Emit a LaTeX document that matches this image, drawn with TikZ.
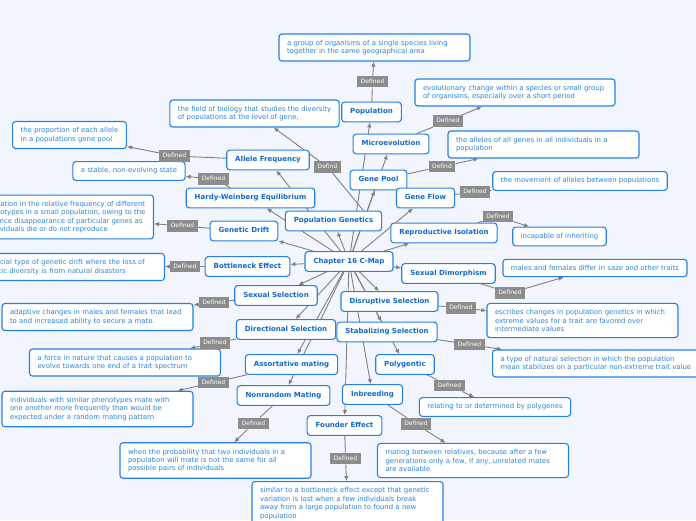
\documentclass[tikz,border=0pt]{standalone}
\usepackage{fontspec}
\setmainfont{DejaVu Sans}
\usetikzlibrary{arrows.meta,backgrounds}
\definecolor{cmapBack}{RGB}{242,245,253}
\definecolor{cmapBorder}{RGB}{38,128,226}
\definecolor{cmapTopic}{RGB}{16,104,210}
\definecolor{cmapText}{RGB}{44,132,222}
\definecolor{cmapLine}{RGB}{128,128,128}
\definecolor{cmapTag}{RGB}{140,140,140}
\tikzset{
  topic/.style={draw=cmapBorder, fill=white, line width=1.1pt, rounded corners=3pt,
    text=cmapTopic, font=\fontsize{7}{8.4}\selectfont\bfseries,
    inner xsep=8.5pt, inner ysep=6.5pt, text height=5.3pt, text depth=1.4pt},
  defn/.style={draw=cmapBorder, fill=white, line width=1.1pt, rounded corners=3pt,
    text=cmapText, font=\fontsize{6.9}{8.4}\selectfont, align=left,
    inner xsep=8pt, inner ysep=6pt},
  wide/.style={text width=175pt},
  tag/.style={fill=cmapTag, text=white, font=\fontsize{6}{7}\selectfont,
    inner xsep=3.5pt, inner ysep=3pt, text height=4.4pt, text depth=1.2pt},
  link/.style={draw=cmapLine, line width=0.9pt, -{Latex[length=5pt,width=4.5pt]}},
}
\begin{document}
\begin{tikzpicture}[x=1pt, y=-1pt]
\useasboundingbox (0,0) rectangle (696,520);
\clip (0,0) rectangle (696,520);
% Centre and topics
\node[topic] (c16) at (349,261.5) {Chapter 16 C-Map};
\node[topic] (pop) at (371.5,112) {Population};
\node[topic] (micro) at (391,144) {Microevolution};
\node[topic] (gpool) at (378.5,180) {Gene Pool};
\node[topic] (gflow) at (425.5,198) {Gene Flow};
\node[topic] (popgen) at (333.5,221) {Population Genetics};
\node[topic] (allele) at (268,160) {Allele Frequency};
\node[topic] (hw) at (250.5,198) {Hardy-Weinberg Equilibrium};
\node[topic] (gdrift) at (244,231) {Genetic Drift};
\node[topic] (bneck) at (247.5,266.5) {Bottleneck Effect};
\node[topic] (sexsel) at (276,295.5) {Sexual Selection};
\node[topic] (dirsel) at (286,329.5) {Directional Selection};
\node[topic] (assort) at (291.5,364.5) {Assortative mating};
\node[topic] (nonrand) at (283.5,395.5) {Nonrandom Mating};
\node[topic] (founder) at (344.5,425.5) {Founder Effect};
\node[topic] (inbreed) at (372.5,394.5) {Inbreeding};
\node[topic] (polyg) at (405,364.5) {Polygentic};
\node[topic] (stabsel) at (387,332) {Stabalizing Selection};
\node[topic] (disrsel) at (389.5,301.5) {Disruptive Selection};
\node[topic] (sexdim) at (448.5,273.5) {Sexual Dimorphism};
\node[topic] (repiso) at (444,233) {Reproductive Isolation};
% Definitions
\node[defn, wide] (dPop) at (374.5,47.5) {a group of organisms of a single species living\\together in the same geographical area};
\node[defn] (dPopgen) at (254.5,113.5) {the field of biology that studies the diversity\\of populations at the level of gene,};
\node[defn, text width=184pt] (dMicro) at (515,92.5) {evolutionary change within a species or small group\\of organisms, especially over a short period};
\node[defn, wide] (dGpool) at (543.5,144.5) {the alleles of all genes in all individuals in a\\population};
\node[defn] (dGflow) at (580,181) {the movement of alleles between populations};
\node[defn] (dRepiso) at (559.5,236.5) {incapable of inheriting};
\node[defn] (dSexdim) at (595,268) {males and females differ in saze and other traits};
\node[defn, wide] (dDisr) at (582.5,320.5) {escribes changes in population genetics in which\\extreme values for a trait are favored over\\intermediate values};
\node[defn, anchor=west] (dStab) at (492,363.5) {a type of natural selection in which the population\\mean stabilizes on a particular non-extreme trait value};
\node[defn] (dPolyg) at (495,407) {relating to or determined by polygenes};
\node[defn, wide] (dInbreed) at (473,460.5) {mating between relatives, because after a few\\generations only a few, if any, unrelated mates\\are available};
\node[defn, wide, anchor=north] (dFounder) at (347.5,481) {similar to a bottleneck effect except that genetic\\variation is lost when a few individuals break\\away from a large population to found a new\\population};
\node[defn, wide] (dNonrand) at (215.5,460.5) {when the probability that two individuals in a\\population will mate is not the same for all\\possible pairs of individuals};
\node[defn, wide] (dAssort) at (97.5,409) {individuals with similar phenotypes mate with\\one another more frequently than would be\\expected under a random mating pattern};
\node[defn, wide] (dDir) at (125,362.5) {a force in nature that causes a population to\\evolve towards one end of a trait spectrum};
\node[defn, wide] (dSexsel) at (97.5,317) {adaptive changes in males and females that lead\\to and increased ability to secure a mate.};
\node[defn, wide, anchor=east] (dBneck) at (165,267) {a special type of genetic drift where the loss of\\genetic diversity is from natural disasters};
\node[defn, anchor=east] (dGdrift) at (154,217) {variation in the relative frequency of different\\genotypes in a small population, owing to the\\chance disappearance of particular genes as\\individuals die or do not reproduce};
\node[defn] (dAllele) at (69.5,135) {the proportion of each allele\\in a populations gene pool};
\node[defn] (dHw) at (129,171) {a stable, non-evolving state};
% Tags
\node[tag] (lPop) at (372.5,81.5) {Defined};
\node[tag] (lPopgen) at (327.5,167) {Defind};
\node[tag] (lMicro) at (448,121) {Defined};
\node[tag] (lGpool) at (442,166.5) {Defind};
\node[tag] (lGflow) at (475,192) {Defined};
\node[tag] (lRepiso) at (498,216.5) {Defined};
\node[tag] (lSexdim) at (510,293) {Defined};
\node[tag] (lDisr) at (461,308) {Defined};
\node[tag] (lStab) at (469.5,344.5) {Defined};
\node[tag] (lPolyg) at (449.5,385.5) {Defined};
\node[tag] (lInbreed) at (416,424) {Defined};
\node[tag] (lFounder) at (345.5,458.5) {Defined};
\node[tag] (lNonrand) at (253.5,423.5) {Defined};
\node[tag] (lAssort) at (213.5,382.5) {Defined};
\node[tag] (lDir) at (215,343) {Defined};
\node[tag] (lSexsel) at (214,302.5) {Defined};
\node[tag] (lBneck) at (185,266.5) {Defined};
\node[tag] (lGdrift) at (182.5,226) {Defined};
\node[tag] (lHw) at (213.5,179) {Defined};
\node[tag] (lAllele) at (174.5,156) {Defined};
\begin{pgfonlayer}{background}
  % Background
  \fill[cmapBack] (0,0) rectangle (696,520);
  % Spokes from the centre
  \foreach \t in {pop,micro,gpool,gflow,popgen,allele,hw,gdrift,bneck,sexsel,
                  dirsel,assort,nonrand,founder,inbreed,polyg,stabsel,disrsel,sexdim,repiso}
    \draw[link] (c16) -- (\t);
  % Defined links
  \draw[link] (pop) -- (lPop) -- (dPop);
  \draw[link] ([xshift=30pt]popgen.north) -- (lPopgen) -- (dPopgen);
  \draw[link] (micro) -- (lMicro) -- (dMicro);
  \draw[link] (gpool) -- (lGpool) -- (dGpool);
  \draw[link] (gflow) -- (lGflow) -- (dGflow);
  \draw[link] (repiso) -- (lRepiso) -- (dRepiso);
  \draw[link] (sexdim) -- (lSexdim) -- (dSexdim);
  \draw[link] (disrsel) -- (lDisr) -- (dDisr);
  \draw[link] (stabsel) -- (lStab) -- (dStab);
  \draw[link] (polyg) -- (lPolyg) -- (dPolyg);
  \draw[link] (inbreed) -- (lInbreed) -- (dInbreed);
  \draw[link] (founder) -- (lFounder) -- (dFounder);
  \draw[link] (nonrand) -- (lNonrand) -- (dNonrand);
  \draw[link] (assort) -- (lAssort) -- (dAssort);
  \draw[link] (dirsel) -- (lDir) -- (dDir);
  \draw[link] (sexsel) -- (lSexsel) -- (dSexsel);
  \draw[link] (bneck) -- (lBneck) -- (dBneck);
  \draw[link] (gdrift) -- (lGdrift) -- (dGdrift);
  \draw[link] (hw) -- (lHw) -- (dHw);
  \draw[link] (allele) -- (lAllele) -- (dAllele);
\end{pgfonlayer}
\end{tikzpicture}
\end{document}
